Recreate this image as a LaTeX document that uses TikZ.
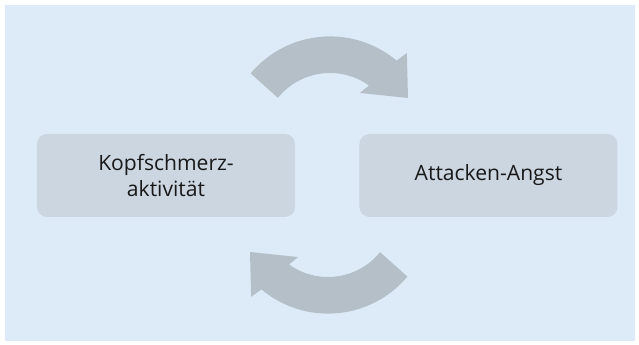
\documentclass[tikz,border=0pt]{standalone}
\usepackage{fontspec}
\setmainfont{Open Sans}
\usetikzlibrary{positioning}
\definecolor{hgblau}{RGB}{221,234,247}
\definecolor{kastengrau}{RGB}{203,214,225}
\definecolor{pfeilgrau}{RGB}{180,191,200}
\tikzstyle{kasten}=[
	rectangle,
	rounded corners=0.3cm,
	fill=kastengrau,
	minimum width=7.74cm,
	minimum height=2.49cm,
	inner sep=0,
	align=center,
	text=black!90,
	font=\fontsize{18}{22.2}\selectfont]
% dicker Bogenpfeil, Mittelpunkt im Ursprung
\tikzset{pics/kreispfeil/.style={code={
	\fill[pfeilgrau] (140:103.6) arc[start angle=140,end angle=50,radius=103.6]
		-- (48.5:116) -- (28.3:88.6) -- (57.5:55.8) -- (54.4:67)
		arc[start angle=54.4,end angle=141,radius=67] -- cycle;
}}}

\begin{document}
\begin{tikzpicture}[x=0.03cm,y=0.03cm]
	\useasboundingbox (0,0) rectangle (639,345);
	\fill[hgblau] (5,4) rectangle (635,340);
	\node[kasten] (kopf) at (166,169.5) {Kopfschmerz-\\aktivität};
	\node[kasten] (angst) [right=1.92cm of kopf] {Attacken-Angst};
	\pic at (330,205) {kreispfeil};
	\pic[rotate=180] at (328,135) {kreispfeil};
\end{tikzpicture}
\end{document}
